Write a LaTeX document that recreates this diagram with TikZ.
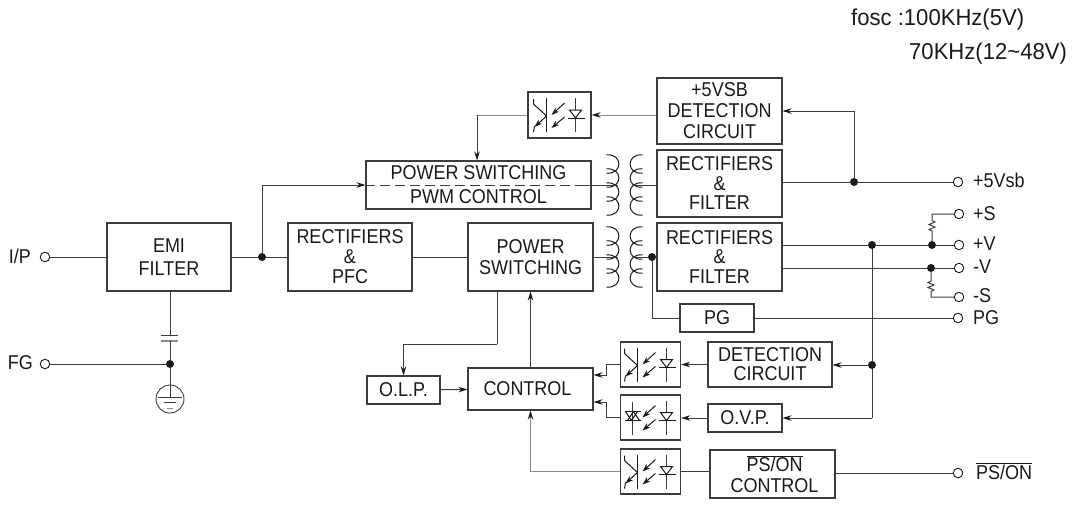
\documentclass[tikz,border=0pt]{standalone}
\usepackage{fontspec}
\setmainfont[FakeStretch=0.9]{Liberation Sans}
\newfontfamily\topfont[FakeStretch=0.96]{Liberation Sans}
\usetikzlibrary{arrows.meta}
\definecolor{ink}{HTML}{1A1A1A}
\definecolor{wire}{HTML}{3C3C3C}
\definecolor{soft}{HTML}{8A8A8A}
\newcommand{\olabel}{$\overline{\hbox{PS/ON}}$}
\tikzset{
  x=1pt,y=-1pt,
  line/.style={draw=wire,line width=1pt},
  softline/.style={draw=soft,line width=1pt},
  thickline/.style={draw=wire,line width=1.8pt},
  arr/.style={-{Stealth[length=9pt,width=5.5pt,color=ink]}},
  box/.style n args={3}{draw=wire,line width=1.1pt,fill=white,inner sep=0pt,align=center,text=ink,
    minimum width=#1pt,minimum height=#2pt,font=\fontsize{20}{#3}\selectfont},
  optobox/.style={draw=wire,line width=1.3pt,fill=white,inner sep=0pt,minimum width=60pt,minimum height=45pt},
  term/.style={circle,draw=ink,line width=0.9pt,fill=white,inner sep=0pt,minimum size=9.5pt},
  dot/.style={circle,fill=ink,inner sep=0pt,minimum size=8pt},
  lbl/.style={anchor=west,inner sep=0pt,text=ink,font=\fontsize{20}{22}\selectfont},
  sym/.style={draw=ink,line width=1pt},
  lit/.style={sym,-{Stealth[length=8pt,width=5.5pt]}},
  rays/.pic={
    \draw[lit] (5,-12) -- (-8,0);
    \draw[lit] (5,2) -- (-8,13);
    \draw[sym,draw=wire] (16,-17) -- (16,17);
    \draw[sym] (8,3) -- (25,3);
    \draw[sym,fill=white] (10,-5) -- (22,-5) -- (16,3) -- cycle;
  },
  optoT/.pic={
    \pic {rays};
    \draw[sym] (-13,-17) -- (-13,17);
    \draw[sym] (-26,-16) -- (-26,-11) -- (-13,1);
    \draw[lit] (-13,1) -- (-25,12);
    \draw[sym] (-25,11) -- (-26,17);
  },
  optoD/.pic={
    \pic {rays};
    \draw[sym,draw=wire] (-18,-16) -- (-18,17);
    \draw[sym] (-26,-6) -- (-10,-6);
    \draw[sym] (-26,3) -- (-10,3);
    \draw[sym] (-25,-6) -- (-19,3) -- (-13,-6);
    \draw[sym] (-23,3) -- (-17,-6) -- (-11,3);
  },
  coilR/.pic={
    \foreach \o in {-21,-7,7,21}
      \draw[sym] (-6.5,\o-9) .. controls (10,\o-11) and (10,\o+11) .. (-6.5,\o+9);
  },
  coilL/.pic={
    \foreach \o in {-21,-7,7,21}
      \draw[sym] (6.5,\o-9) .. controls (-10,\o-11) and (-10,\o+11) .. (6.5,\o+9);
  },
}
\begin{document}
\begin{tikzpicture}
\useasboundingbox (0,0) rectangle (1074,507);

% blocks
\node[box={125}{66}{21}]  (vsb) at (719.5,111) {+5VSB\\DETECTION\\CIRCUIT};
\node[box={125}{67}{19.5}] (rsb) at (719.5,183.5) {RECTIFIERS\\\&\\FILTER};
\node[box={225}{48}{24}]  (pwm) at (478.5,185) {POWER SWITCHING\\PWM CONTROL};
\node[box={125}{68}{19.5}] (rmain) at (719.5,257) {RECTIFIERS\\\&\\FILTER};
\node[box={124}{68}{23}]  (emi) at (169,257) {EMI\\FILTER};
\node[box={124}{68}{20}]  (pfc) at (350,257) {RECTIFIERS\\\&\\PFC};
\node[box={125}{68}{21}]  (psw) at (530.5,257) {POWER\\SWITCHING};
\node[box={74}{28}{20}]   (pg) at (717,318) {PG};
\node[box={73}{28}{20}]   (olp) at (403.5,390) {O.L.P.};
\node[box={125}{42}{20}]  (ctl) at (530.5,389) {\hspace{-6pt}CONTROL};
\node[box={124}{45}{19}]  (det) at (770,364.5) {DETECTION\\CIRCUIT};
\node[box={74}{28}{20}]   (ovp) at (745,418) {O.V.P.};
\node[box={125}{48}{21}]  (pson) at (772.5,474) {\hspace{4pt}\olabel\\\hspace{4pt}CONTROL};

% optocouplers
\node[optobox,minimum width=63pt,minimum height=46pt] (op1) at (559.5,115) {};
\node[optobox] (op2) at (650.5,364.5) {};
\node[optobox] (op3) at (650.5,417.5) {};
\node[optobox] (op4) at (650.5,471.5) {};
\pic at (op1.center) {optoT};
\pic at (op2.center) {optoT};
\pic at (op3.center) {optoD};
\pic at (op4.center) {optoT};

% terminals
\node[term] (tip) at (45,257) {};
\node[term] (tfg) at (45,364) {};
\node[term] (tsb) at (958,182) {};
\node[term] (tps) at (959,214) {};
\node[term] (tpv) at (959,245) {};
\node[term] (tnv) at (959,268) {};
\node[term] (tns) at (959,297) {};
\node[term] (tpg) at (958,318) {};
\node[term] (ton) at (958,473) {};

% labels
\node[lbl,anchor=east] (lip) at (31,256) {I/P};
\node[lbl,anchor=east] (lfg) at (33,363) {FG};
\node[lbl] (lsb) at (973,180) {+5Vsb};
\node[lbl] (lps) at (973,214) {+S};
\node[lbl] (lpv) at (973,244) {+V};
\node[lbl] (lnv) at (973,267) {-V};
\node[lbl] (lns) at (973,296) {-S};
\node[lbl] (lpg) at (973,318) {PG};
\node[lbl] (lon) at (976,471) {\olabel};
\node[lbl,font=\topfont\fontsize{23}{26}\selectfont] (f1) at (851,20) {fosc :100KHz(5V)};
\node[lbl,font=\topfont\fontsize{23}{26}\selectfont] (f2) at (909,54) {70KHz(12\textasciitilde48V)};

% junctions
\node[dot] (j1) at (262,257) {};
\node[dot] (j2) at (854,182) {};
\node[dot] (j3) at (652,257) {};
\node[dot] (j4) at (872,245) {};
\node[dot] (j5) at (932,245) {};
\node[dot] (j6) at (931,268) {};
\node[dot] (j7) at (872,365) {};
\node[dot] (j8) at (170,364) {};

% transformers
\coordinate (tr1a) at (613,185);
\coordinate (tr1b) at (636,185);
\coordinate (tr2a) at (613,257);
\coordinate (tr2b) at (636,257);
\pic at (tr1a) {coilR};
\pic at (tr1b) {coilL};
\pic at (tr2a) {coilR};
\pic at (tr2b) {coilL};

% input side
\draw[line] (tip) -- (emi);
\draw[line] (emi) -- (j1) -- (pfc);
\draw[line,arr] (j1) |- (pwm.west);
\draw[line] (pfc) -- (psw);
\draw[line] (psw.east) -- (618,257);
\draw[line] (633,257) -- (j3) -- (rmain);
\draw[line,dash pattern=on 10pt off 5pt] (pwm.west) -- (583,185);
\draw[line] (583,185) -- (618,185);
\draw[line] (633,185) -- (rsb.west |- 0,185);

% earth
\coordinate (cap1) at (170,335);
\coordinate (cap2) at (170,341);
\coordinate (gnd) at (170,397);
\draw[line] (emi.south -| cap1) -- (cap1);
\draw[line] (161,335) -- (178,335);
\draw[softline,line width=1.3pt] (161,341) -- (178,341);
\draw[line] (cap2) -- (j8);
\draw[line] (tfg) -- (j8);
\draw[line] (j8) -- (gnd);
\draw[line,line width=0.9pt] (170,399) circle[radius=14];
\draw[line] (158,397) -- (182,397);
\draw[line] (164,402) -- (176,402);
\draw[softline] (167,408) -- (173,408);

% +5Vsb
\draw[line] (rsb.east |- j2) -- (j2) -- (tsb);
\draw[line,arr] (j2) |- (vsb.east);
\draw[softline,arr] (vsb.west |- op1) -- (op1.east);
\coordinate (c1) at (477,115);
\draw[softline] (op1.west) -- (c1);
\draw[line,arr] (c1) -- (c1 |- pwm.north);

% main output
\draw[line] (rmain.east |- j4) -- (j4) -- (j5) -- (tpv);
\draw[line] (rmain.east |- j6) -- (j6) -- (tnv);
\draw[line] (j3) |- (pg.west);
\draw[line] (pg) -- (tpg);

% sense resistors
\draw[line] (j5) -- (932,231)
  -- ++(-3,-1.5) -- ++(6,-2.5) -- ++(-6,-2.5) -- ++(6,-2.5) -- ++(-3,-1.5)
  -- (932,214) -- (tps);
\draw[line] (j6) -- (931,281)
  -- ++(-3,1.5) -- ++(6,2.5) -- ++(-6,2.5) -- ++(6,2.5) -- ++(-3,1.5)
  -- (931,297) -- (tns);

% feedback
\coordinate (c2) at (872,418);
\draw[line] (j4) -- (j7) -- (c2);
\draw[line,arr] (j7) -- (det.east |- j7);
\draw[line,arr] (c2) -- (ovp.east);
\draw[line,arr] (det.west) -- (op2.east);
\draw[line,arr] (ovp.west) -- (op3.east |- ovp.west);
\coordinate (c3) at (606,364.5);
\coordinate (c4) at (606,375);
\coordinate (c5) at (606,417.5);
\coordinate (c6) at (606,402);
\draw[line,arr] (op2.west) -- (c3) -- (c4) -- (ctl.east |- c4);
\draw[line,arr] (op3.west) -- (c5) -- (c6) -- (ctl.east |- c6);
\draw[line,arr] (ctl.north) -- (ctl.north |- psw.south);
\draw[line,arr] (olp) -- (ctl);
\coordinate (c7) at (497,344);
\draw[line] (c7 |- psw.south) -- (c7);
\draw[line,arr] (c7) -| (olp.north);
\draw[softline,arr] (op4.west) -| (ctl.south);
\draw[thickline] (op4.east) -- (pson.west |- op4.east);
\draw[line] (pson.east |- ton) -- (ton);
\end{tikzpicture}
\end{document}
